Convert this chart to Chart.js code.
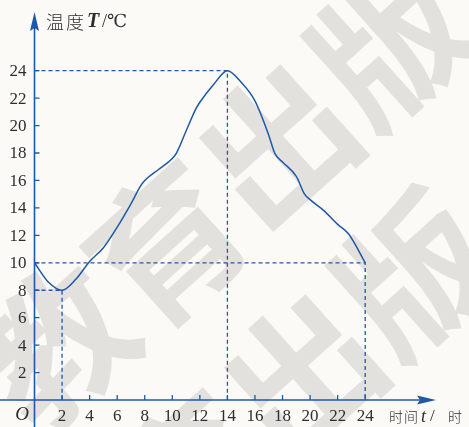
<!DOCTYPE html>
<html>
<head>
<meta charset="utf-8">
<script src="https://cdn.jsdelivr.net/npm/chart.js@4.4.1/dist/chart.umd.min.js"></script>
<style>
  html, body { margin: 0; padding: 0; background: #fcfaf6; }
  #wrap { width: 469px; height: 427px; }
</style>
</head>
<body>
<div id="wrap"><canvas id="c" width="469" height="427"></canvas></div>
<script>
// temperature over one day
const times = [0, 1, 2, 3, 4, 5, 6, 7, 7.7, 8, 9, 10, 10.3, 11, 11.7, 12, 13, 14, 15, 16, 17, 17.45, 18, 19, 19.6, 20, 21, 22, 22.8, 24];
const temps = [10, 8.6, 8, 8.8, 10.1, 11.1, 12.6, 14.3, 15.6, 16.0, 16.8, 17.6, 18.0, 19.6, 21.2, 21.7, 23, 24, 23.15, 21.8, 19.3, 17.95, 17.35, 16.3, 15.0, 14.6, 13.8, 12.8, 12.1, 10];

const xTicks = [2, 4, 6, 8, 10, 12, 14, 16, 18, 20, 22, 24];
const yTicks = [2, 4, 6, 8, 10, 12, 14, 16, 18, 20, 22, 24];

// dashed guide lines: [t, T] corners
const guideMax = [[0, 24], [14, 24], [14, 0]];
const guideMin = [[0, 8], [2, 8], [2, 0]];
const guideTen = [[0, 10], [24, 10], [24, 0]];

const BLUE = '#1f58a6';
const INK = '#2e2e2e';
const SERIF = '"Liberation Serif", "DejaVu Serif", serif';
const CJK = '"Noto Sans CJK SC", sans-serif';

const toXY = (pts) => pts.map(([x, y]) => ({ x, y }));

const guide = (pts) => ({
  data: toXY(pts),
  borderColor: BLUE,
  borderWidth: 1.3,
  borderDash: [4, 3],
  pointRadius: 0,
  tension: 0,
});

const watermark = {
  id: 'watermark',
  beforeDatasetsDraw(chart) {
    const { ctx } = chart;
    ctx.save();
    ctx.fillStyle = '#e3e1dd';
    ctx.font = `bold 150px ${CJK}`;
    ctx.textAlign = 'center';
    ctx.textBaseline = 'middle';
    const rows = [[55, 345], [80, 575]];
    rows.forEach(([ox, oy]) => {
      ctx.save();
      ctx.translate(ox, oy);
      ctx.rotate(-42 * Math.PI / 180);
      ['教', '育', '出', '版'].forEach((ch, i) => {
        ctx.fillText(ch, i * 150, 0);
      });
      ctx.restore();
    });
    ctx.restore();
  },
};

const axes = {
  id: 'axes',
  afterDatasetsDraw(chart) {
    const { ctx, scales: { x, y } } = chart;
    const x0 = x.getPixelForValue(0);
    const y0 = y.getPixelForValue(0);
    ctx.save();
    ctx.strokeStyle = BLUE;
    ctx.fillStyle = BLUE;
    ctx.lineWidth = 1.6;

    // axis lines
    const xTip = 436, yTip = 12;
    ctx.beginPath();
    ctx.moveTo(0, y0); ctx.lineTo(xTip - 10, y0);
    ctx.moveTo(x0, chart.height); ctx.lineTo(x0, yTip + 10);
    ctx.stroke();

    // arrow heads
    ctx.beginPath();
    ctx.moveTo(xTip, y0);
    ctx.lineTo(xTip - 19, y0 - 4.5);
    ctx.lineTo(xTip - 16, y0);
    ctx.lineTo(xTip - 19, y0 + 4.5);
    ctx.closePath();
    ctx.fill();
    ctx.beginPath();
    ctx.moveTo(x0, yTip);
    ctx.lineTo(x0 - 4.5, yTip + 19);
    ctx.lineTo(x0, yTip + 16);
    ctx.lineTo(x0 + 4.5, yTip + 19);
    ctx.closePath();
    ctx.fill();

    // tick marks
    ctx.lineWidth = 1.3;
    ctx.beginPath();
    xTicks.forEach((t) => {
      const px = x.getPixelForValue(t);
      ctx.moveTo(px, y0); ctx.lineTo(px, y0 - 5);
    });
    yTicks.forEach((v) => {
      const py = y.getPixelForValue(v);
      ctx.moveTo(x0, py); ctx.lineTo(x0 + 5, py);
    });
    ctx.stroke();

    // tick labels
    ctx.fillStyle = INK;
    ctx.font = `17px ${SERIF}`;
    ctx.textBaseline = 'middle';
    ctx.textAlign = 'center';
    xTicks.forEach((t) => ctx.fillText(String(t), x.getPixelForValue(t), y0 + 17));
    ctx.textAlign = 'right';
    yTicks.forEach((v) => ctx.fillText(String(v), x0 - 8, y.getPixelForValue(v) + 1));

    // origin
    ctx.font = `italic 19px ${SERIF}`;
    ctx.textAlign = 'center';
    ctx.fillText('O', 22, y0 + 15);

    // axis titles
    ctx.textAlign = 'left';
    ctx.font = `300 18px ${CJK}`;
    ctx.fillText('温', 46, 22);
    ctx.fillText('度', 66, 22);
    ctx.font = `italic bold 20px ${SERIF}`;
    ctx.fillText('T', 87, 22);
    ctx.font = `18px ${SERIF}`;
    ctx.fillText('/℃', 102, 22);

    ctx.font = `300 14px ${CJK}`;
    ctx.fillText('时', 389, y0 + 17);
    ctx.fillText('间', 404, y0 + 17);
    ctx.font = `italic 18px ${SERIF}`;
    ctx.fillText('t', 421, y0 + 17);
    ctx.font = `17px ${SERIF}`;
    ctx.fillText('/', 430, y0 + 17);
    ctx.font = `300 14px ${CJK}`;
    ctx.fillText('时', 448, y0 + 17);
    ctx.restore();
  },
};

new Chart(document.getElementById('c'), {
  type: 'line',
  data: {
    datasets: [
      guide(guideMax),
      guide(guideMin),
      guide(guideTen),
      {
        label: '温度',
        data: times.map((t, i) => ({ x: t, y: temps[i] })),
        borderColor: BLUE,
        borderWidth: 1.5,
        pointRadius: 0,
        cubicInterpolationMode: 'monotone',
      },
    ],
  },
  options: {
    responsive: false,
    devicePixelRatio: 1,
    animation: false,
    layout: { padding: { left: 34.5, right: 34.9, top: 15.8, bottom: 27 } },
    plugins: { legend: { display: false }, tooltip: { enabled: false } },
    scales: {
      x: { type: 'linear', min: 0, max: 29, display: false },
      y: { type: 'linear', min: 0, max: 28, display: false },
    },
  },
  plugins: [watermark, axes],
});
</script>
</body>
</html>
